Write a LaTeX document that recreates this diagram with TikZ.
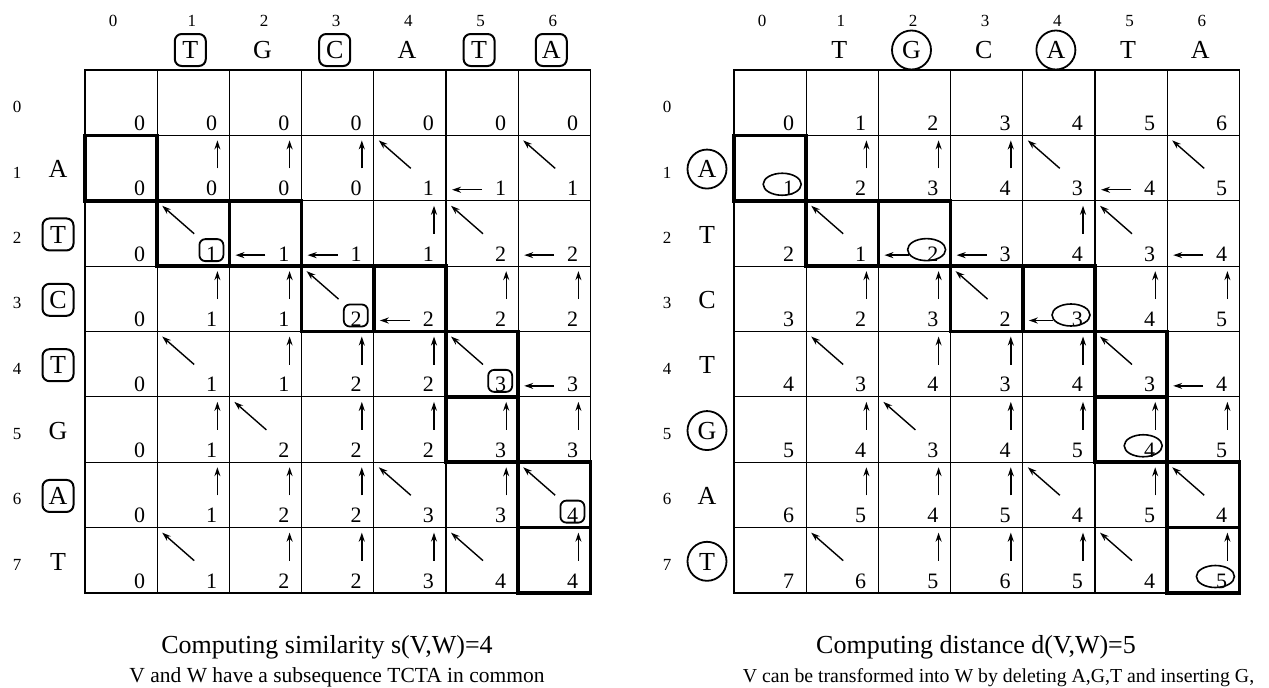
\documentclass[tikz,border=0pt]{standalone}
\usepackage{fontspec}
\setmainfont{Liberation Serif}
\usetikzlibrary{calc,arrows.meta,shapes.geometric}

\tikzset{
  cellbox/.style={draw, line width=1.2pt, minimum width=72.2pt, minimum height=65.375pt,
    inner sep=0pt, outer sep=0pt, anchor=north west},
  pathcell/.style={draw, line width=3.6pt},
  num/.style={font=\fontsize{22}{22}\selectfont, inner sep=0pt, anchor=base east},
  arr/.style={line width=1.4pt, -{Stealth[length=9pt,width=6pt]}},
  idx/.style={font=\fontsize{17}{17}\selectfont, inner sep=0pt, anchor=base},
  seq/.style={font=\fontsize{26}{26}\selectfont, inner sep=0pt, text height=17.5pt, text depth=0pt},
  seqbox/.style={seq, draw, line width=2pt, rounded corners=7pt, minimum width=31pt, minimum height=32pt},
  seqcirc/.style={seq, draw, circle, line width=1.8pt, minimum size=39pt},
  numbox/.style={draw, line width=1.8pt, rounded corners=6pt, minimum width=24pt,
    minimum height=22pt, inner sep=0pt},
  numoval/.style={draw, ellipse, line width=1.6pt, minimum width=38pt, minimum height=22pt, inner sep=0pt},
  cellmark/.style={numbox},
  caption/.style={font=\fontsize{26}{26}\selectfont, inner sep=0pt, anchor=base},
  subcaption/.style={font=\fontsize{21.5}{21.5}\selectfont, inner sep=0pt, anchor=base},
}

% traceback arrows drawn inside the current cell \cn
\newcommand\cellarrowu{\draw[arr] ($(\cn.north east)+(-12,33)$) -- ($(\cn.north east)+(-12,5)$);}
\newcommand\cellarrowd{\draw[arr] ($(\cn.north west)+(37,33)$) -- ($(\cn.north west)+(5,5)$);}
\newcommand\cellarrowl{\draw[arr] ($(\cn.south west)+(36,-11)$) -- ($(\cn.south west)+(6,-11)$);}
\newcommand\cellarrown{}
\newcommand\cellmark{\node[cellmark] (\cn-m) at ($(\cn.south east)+(\markdx,\markdy)$) {};}
\newcommand\cellarrowU{\cellmark\cellarrowu}
\newcommand\cellarrowD{\cellmark\cellarrowd}
\newcommand\cellarrowN{\cellmark}
\newcommand\cellarrowL{\cellmark
  \coordinate (\cn-t) at ($(\cn.south west)+(6,-11)$);
  \draw[arr] ($(\cn-m.west |- \cn-t)+(2,0)$) -- (\cn-t);}

% #1 prefix, #2 left x, #3 rows of value/arrow entries
\newcommand\dpgrid[3]{%
  \foreach \r/\vals in {#3} {
    \foreach \v/\a [count=\ci from 0] in \vals {
      \edef\cn{#1-\r-\ci}
      \node[cellbox] (\cn) at ({#2+\ci*72.2}, {70+\r*65.375}) {};
      \node[num] (\cn-v) at ($(\cn.south east)+(-12,-5)$) {\v};
      \csname cellarrow\a\endcsname
    }
  }
  \foreach \r/\c in {1/0,2/1,2/2,3/3,3/4,4/5,5/5,6/6,7/6}
    \draw[pathcell] (#1-\r-\c.north west) rectangle (#1-\r-\c.south east);
  \foreach \c in {0,...,6}
    \node[idx] (#1-ci-\c) at ({#2+(\c+0.5)*72.2-1.5-(\c==0)*6.5}, 27) {\c};
}

\begin{document}
\begin{tikzpicture}[x=1pt, y=-1pt]
\useasboundingbox (0,0) rectangle (1269,688);

% ---------- similarity table ----------
\def\markdx{-18}\def\markdy{-16}
\tikzset{cellmark/.style={numbox}}
\dpgrid{S}{85}{
  0/{0/n,0/n,0/n,0/n,0/n,0/n,0/n},
  1/{0/n,0/u,0/u,0/u,1/d,1/l,1/d},
  2/{0/n,1/D,1/l,1/l,1/u,2/d,2/l},
  3/{0/n,1/u,1/u,2/D,2/l,2/u,2/u},
  4/{0/n,1/d,1/u,2/u,2/u,3/D,3/l},
  5/{0/n,1/u,2/d,2/u,2/u,3/u,3/u},
  6/{0/n,1/u,2/u,2/u,3/d,3/u,4/D},
  7/{0/n,1/d,2/u,2/u,3/u,4/d,4/u}}
\foreach \l/\st [count=\ci from 1] in {T/seqbox,G/seq,C/seqbox,A/seq,T/seqbox,A/seqbox}
  \node[\st] (S-top-\ci) at ({85+(\ci+0.5)*72.2-3}, 50) {\l};
\foreach \r in {0,...,7}
  \node[idx] (S-ri-\r) at (17, {70+(\r+0.5)*65.375+10}) {\r};
\foreach \l/\st [count=\ri from 1] in {A/seq,T/seqbox,C/seqbox,T/seqbox,G/seq,A/seqbox,T/seq}
  \node[\st] (S-left-\ri) at (58, {70+(\ri+0.5)*65.375+1}) {\l};
\node[caption] (S-cap) at (327, 653) {Computing similarity s(V,W)=4};
\node[subcaption] (S-sub) at (337, 682) {V and W have a subsequence TCTA in common};

% ---------- distance table ----------
\def\markdx{-24}\def\markdy{-16.5}
\tikzset{cellmark/.style={numoval}}
\dpgrid{D}{734}{
  0/{0/n,1/n,2/n,3/n,4/n,5/n,6/n},
  1/{1/N,2/u,3/u,4/u,3/d,4/l,5/d},
  2/{2/n,1/d,2/L,3/l,4/u,3/d,4/l},
  3/{3/n,2/u,3/u,2/d,3/L,4/u,5/u},
  4/{4/n,3/d,4/u,3/u,4/u,3/d,4/l},
  5/{5/n,4/u,3/d,4/u,5/u,4/U,5/u},
  6/{6/n,5/u,4/u,5/u,4/d,5/u,4/d},
  7/{7/n,6/d,5/u,6/u,5/u,4/d,5/U}}
\foreach \l/\st [count=\ci from 1] in {T/seq,G/seqcirc,C/seq,A/seqcirc,T/seq,A/seq}
  \node[\st] (D-top-\ci) at ({734+(\ci+0.5)*72.2-3}, 50) {\l};
\foreach \r in {0,...,7}
  \node[idx] (D-ri-\r) at (667, {70+(\r+0.5)*65.375+10}) {\r};
\foreach \l/\st [count=\ri from 1] in {A/seqcirc,T/seq,C/seq,T/seq,G/seqcirc,A/seq,T/seqcirc}
  \node[\st] (D-left-\ri) at (707, {70+(\ri+0.5)*65.375+1}) {\l};
\node[caption] (D-cap) at (976, 653) {Computing distance d(V,W)=5};
\node[subcaption, font=\fontsize{19.8}{19.8}\selectfont] (D-sub) at (998.5, 682)
  {V can be transformed into W by deleting A,G,T and inserting G,};
\end{tikzpicture}
\end{document}
